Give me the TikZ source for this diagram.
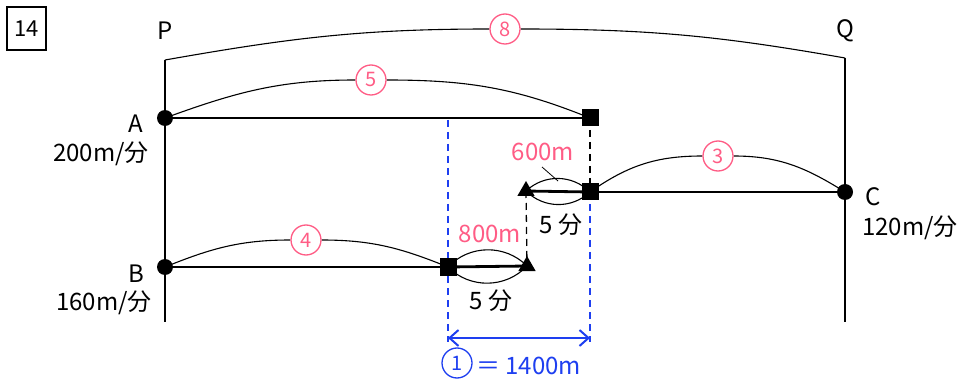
\documentclass[tikz,border=0pt]{standalone}
\usepackage{fontspec}
\setmainfont{Noto Sans CJK JP}
\usetikzlibrary{arrows.meta,shapes.geometric}
\definecolor{pinkc}{HTML}{FF5C85}
\definecolor{bluec}{HTML}{1E3FF0}
\pgfdeclarelayer{background}
\pgfsetlayers{background,main}
\begin{document}
\begin{tikzpicture}[x=1pt,y=-1pt,
  road/.style={line width=2.8pt},
  arcline/.style={line width=1.1pt},
  bdash/.style={line width=1.3pt,dash pattern=on 7pt off 5pt},
  bluedash/.style={bluec,line width=1.3pt,dash pattern=on 7pt off 5pt},
  dot/.style={circle,fill=black,inner sep=0pt,minimum size=16pt},
  sq/.style={rectangle,fill=black,inner sep=0pt,minimum size=17pt},
  tri/.style={regular polygon,regular polygon sides=3,fill=black,inner sep=0pt,minimum size=20pt},
  circ/.style={circle,draw=pinkc,text=pinkc,line width=1.3pt,inner sep=0pt,minimum size=30pt,font=\fontsize{20}{20}\selectfont},
  lbl/.style={inner sep=0pt,font=\fontsize{24}{24}\selectfont},
  plbl/.style={lbl,text=pinkc}
]
\useasboundingbox (0,0) rectangle (964,382);
% problem number
\node[draw,line width=1.5pt,minimum width=39pt,minimum height=43pt,inner sep=0pt,font=\fontsize{22}{22}\selectfont] (num) at (26.5,28.5) {14};
% labels
\node[lbl] (Pl) at (165,31) {P};
\node[lbl] (Ql) at (845,31) {Q};
\node[lbl] (Al) at (136,124) {A};
\node[lbl] (As) at (101,154) {200m/分};
\node[lbl] (Bl) at (136,274) {B};
\node[lbl] (Bs) at (104,303) {160m/分};
\node[lbl] (Cl) at (873,197) {C};
\node[lbl] (Cs) at (910,228) {120m/分};
\node[plbl] (d600) at (543,152) {600m};
\node[plbl] (d800) at (490,234) {800m};
\node[lbl] (t1) at (561,225) {5 分};
\node[lbl] (t2) at (491,301) {5 分};
% points
\coordinate (Ptop) at (165,60);
\coordinate (Pbot) at (165,322);
\coordinate (Qtop) at (845,58);
\coordinate (Qbot) at (845,322);
\node[dot] (A) at (165,118) {};
\node[sq] (A2) at (590,118) {};
\node[dot] (B) at (165,267) {};
\node[sq] (B2) at (448,267) {};
\node[tri] (B3) at (527,266) {};
\node[tri] (C3) at (526,191) {};
\node[sq] (C2) at (590,192) {};
\node[dot] (C) at (845,192) {};
% circled numbers
\node[circ,fill=white] (c8) at (505,29) {8};
\node[circ,fill=white] (c5) at (371,80) {5};
\node[circ,fill=white] (c3) at (718,156) {3};
\node[circ,fill=white] (c4) at (306,240) {4};
% leader
\coordinate (lead1) at (542,167);
\coordinate (lead2) at (558,181);
% blue measurement
\coordinate (bu1) at (448,120);
\coordinate (bd1) at (448,342);
\coordinate (bd2) at (590,342);
\coordinate (ar1) at (448,338);
\coordinate (ar2) at (590,338);
\node[circle,draw=bluec,text=bluec,line width=1.3pt,inner sep=0pt,minimum size=30pt,font=\fontsize{20}{20}\selectfont] (c1) at (457,363) {1};
\node[lbl,text=bluec,anchor=west] (eq) at (476,366) {＝ 1400m};
\begin{pgfonlayer}{background}
  \draw[road] (Ptop) -- (Pbot);
  \draw[road] (Qtop) -- (Qbot);
  \draw[road] (A.center) -- (A2.center);
  \draw[road] (B.center) -- (B2.center);
  \draw[road] (B2.center) -- (B3.center);
  \draw[road] (C3.center) -- (C2.center);
  \draw[road] (C2.center) -- (C.center);
  % arcs
  \draw[arcline] (Ptop) to[out=10,in=180] (c8.west);
  \draw[arcline] (c8.east) to[out=0,in=170] (Qtop);
  \draw[arcline] (A.center) to[out=20,in=180] (c5.west);
  \draw[arcline] (c5.east) to[out=0,in=158] (A2.center);
  \draw[arcline] (C2.center) to[out=35,in=180] (c3.west);
  \draw[arcline] (c3.east) to[out=0,in=148] (C.center);
  \draw[arcline] (B.center) to[out=22,in=180] (c4.west);
  \draw[arcline] (c4.east) to[out=0,in=158] (B2.center);
  % lenses
  \draw[arcline] (C3.center) to[bend left=44] (C2.center);
  \draw[arcline] (C3.center) to[bend right=44] (C2.center);
  \draw[arcline] (B2.center) to[bend left=46] (B3.center);
  \draw[arcline] (B2.center) to[bend right=46] (B3.center);
  \draw[line width=0.8pt] (lead1) -- (lead2);
  % dashed
  \draw[bdash] (A2.center) -- (C2.center);
  \draw[bdash] (C3.center) -- (B3.center);
  \draw[bluedash] (bu1) -- (bd1);
  \draw[bluedash] (C2.center) -- (bd2);
  \draw[bluec,line width=2.2pt,{Straight Barb[length=9pt,width=16pt,line width=2pt]}-{Straight Barb[length=9pt,width=16pt,line width=2pt]}] (ar1) -- (ar2);
\end{pgfonlayer}
\end{tikzpicture}
\end{document}
